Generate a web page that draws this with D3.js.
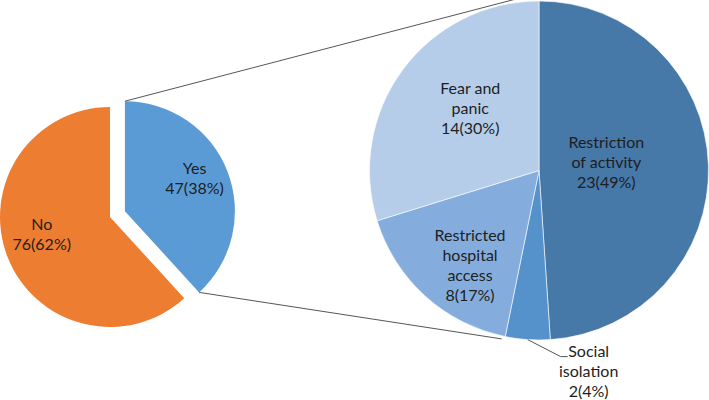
<!DOCTYPE html>
<html><head><meta charset="utf-8">
<script src="https://cdn.jsdelivr.net/npm/d3@7"></script>
<style>html,body{margin:0;padding:0;background:#fff;}svg{display:block;}</style>
</head><body>
<svg id="chart" width="709" height="400"></svg>
<script>
// ---- data ----
const mainCategories = ["Yes", "No"];
const mainValues = [47, 76];
const mainPercents = ["38%", "62%"];
const subCategories = ["Restriction of activity", "Social isolation", "Restricted hospital access", "Fear and panic"];
const subValues = [23, 2, 8, 14];
const subPercents = ["49%", "4%", "17%", "30%"];
const subLabelLines = [["Restriction", "of activity"], ["Social", "isolation"], ["Restricted", "hospital", "access"], ["Fear and", "panic"]];

// ---- style / layout ----
const mainColors = ["#5B9BD5", "#ED7D31"];
const subColors = ["#4678A8", "#5591CB", "#84ADDD", "#B6CDE9"];
const mainLabelK = [0.70, 0.64];
const mainLabelNudge = [-4, 7];     // degrees
const subLabelK = [0.40, null, 0.69, 0.545];
const subLabelNudge = [-5, 0, -6, 5.5];

const svg = d3.select("#chart");
const r1 = 110, c1 = {x: 110, y: 217};
const explode = 16;
const r2 = 169.5, c2 = {x: 539, y: 170.5};
const font = "Lato, 'Open Sans', sans-serif";
const fs = 16, lh = 20;

const deg = Math.PI / 180;
const polar = (c, r, a) => ({x: c.x + r * Math.sin(a), y: c.y - r * Math.cos(a)});

// main pie
const pie1 = d3.pie().sort(null).value(d => d)(mainValues);
const arc1 = d3.arc().innerRadius(0).outerRadius(r1);
const yesArc = pie1[0];
const yesMid = (yesArc.startAngle + yesArc.endAngle) / 2;
const yesCenter = polar(c1, explode, yesMid);

const g1 = svg.append("g");
pie1.forEach((d, i) => {
  const c = i === 0 ? yesCenter : c1;
  g1.append("path")
    .attr("d", arc1(d))
    .attr("transform", `translate(${c.x},${c.y})`)
    .attr("fill", mainColors[i]);
});

// sub pie
const pie2 = d3.pie().sort(null).value(d => d)(subValues);
const arc2 = d3.arc().innerRadius(0).outerRadius(r2);
const g2 = svg.append("g").attr("transform", `translate(${c2.x},${c2.y})`);
g2.selectAll("path").data(pie2).join("path")
  .attr("d", arc2)
  .attr("fill", (d, i) => subColors[i])
  .attr("stroke", "#fff").attr("stroke-width", 0.6);

// connector lines
const yesTop = polar(yesCenter, r1, yesArc.startAngle);
const yesBot = polar(yesCenter, r1, yesArc.endAngle);
const topEnd = {x: c2.x, y: c2.y - r2 - 8};
const botEnd = polar(c2, r2 + 3, 192.5 * deg);
svg.append("line").attr("x1", yesTop.x).attr("y1", yesTop.y).attr("x2", topEnd.x).attr("y2", topEnd.y)
  .attr("stroke", "#555").attr("stroke-width", 1);
svg.append("line").attr("x1", yesBot.x).attr("y1", yesBot.y).attr("x2", botEnd.x).attr("y2", botEnd.y)
  .attr("stroke", "#555").attr("stroke-width", 1);

function multiLabel(x, y, lines) {
  const t = svg.append("text").attr("text-anchor", "middle")
    .attr("font-family", font).attr("font-size", fs).attr("fill", "#1e1e1e");
  const n = lines.length;
  lines.forEach((s, j) => {
    t.append("tspan").attr("x", x).attr("y", y + (j - (n - 1) / 2) * lh).attr("dy", "0.35em").text(s);
  });
}

// main labels
pie1.forEach((d, i) => {
  const c = i === 0 ? yesCenter : c1;
  const a = (d.startAngle + d.endAngle) / 2 + mainLabelNudge[i] * deg;
  const p = polar(c, r1 * mainLabelK[i], a);
  multiLabel(p.x, p.y, [mainCategories[i], `${mainValues[i]}(${mainPercents[i]})`]);
});

// sub labels
pie2.forEach((d, i) => {
  const lines = subLabelLines[i].concat([`${subValues[i]}(${subPercents[i]})`]);
  const mid = (d.startAngle + d.endAngle) / 2;
  if (subLabelK[i] === null) {
    const p0 = polar(c2, r2, mid);
    const p1 = {x: p0.x + 33, y: p0.y + 17};
    const p2 = {x: p1.x + 7, y: p1.y};
    svg.append("polyline").attr("points", [[p0.x, p0.y], [p1.x, p1.y], [p2.x, p2.y]].join(" "))
      .attr("fill", "none").attr("stroke", "#555").attr("stroke-width", 1);
    multiLabel(p2.x + 21, p2.y + 15, lines);
  } else {
    const p = polar(c2, r2 * subLabelK[i], mid + subLabelNudge[i] * deg);
    multiLabel(p.x, p.y, lines);
  }
});
</script>
</body></html>
